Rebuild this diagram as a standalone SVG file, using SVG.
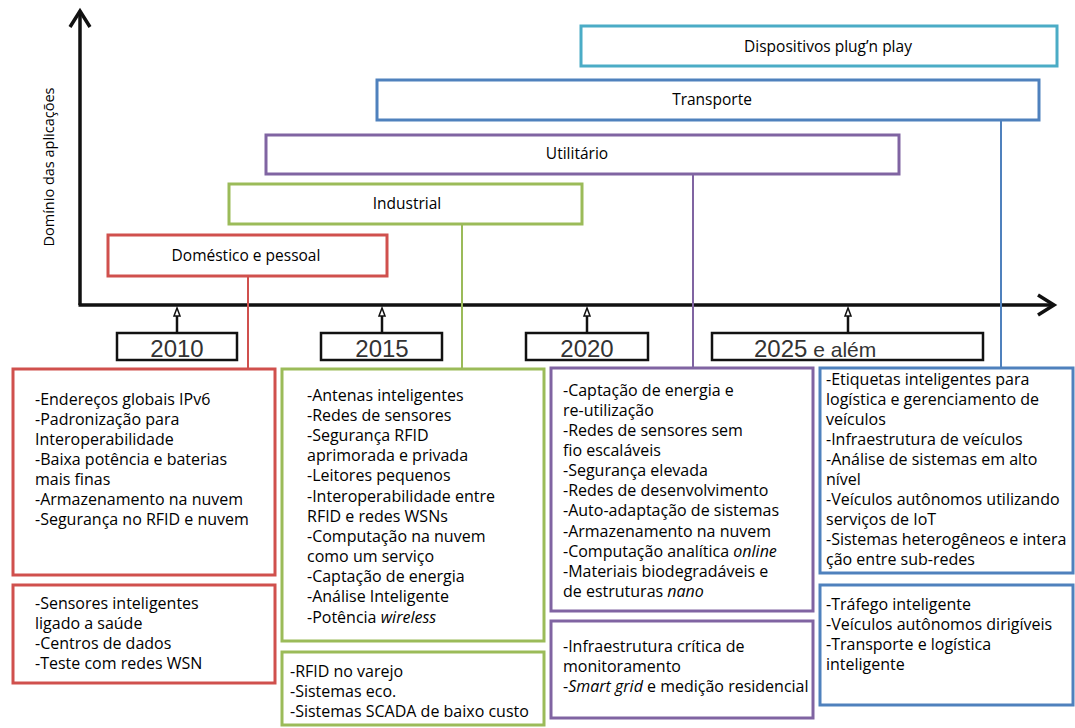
<svg xmlns="http://www.w3.org/2000/svg" width="1075" height="728" viewBox="0 0 1075 728">
<style>
.bx{fill:#fff;stroke-width:3}
.red{stroke:#D0504D}.grn{stroke:#9BBB59}.pur{stroke:#8064A2}.blu{stroke:#4F81BD}.cya{stroke:#4BACC6}
.lbl{font-family:"Open Sans","Liberation Sans",sans-serif;font-size:15.5px;fill:#000;text-anchor:middle}
.txt{font-family:"Open Sans","Liberation Sans",sans-serif;font-size:16px;fill:#000}
.yr{font-family:"Liberation Sans",Arial,sans-serif;font-size:24px;fill:#333}
.ybox{fill:#fff;stroke:#111;stroke-width:2.5}
.tick{stroke:#111;stroke-width:2.5;fill:none}
.con{fill:none;stroke-width:2}
</style>
<rect width="1075" height="728" fill="#fff"/>
<g id="axes">
<line x1="80" y1="12" x2="80" y2="305" stroke="#111" stroke-width="3.5"/>
<line x1="78.5" y1="305" x2="1052" y2="305" stroke="#111" stroke-width="3.5"/>
<polyline points="70,27 80,11 90,27" fill="none" stroke="#111" stroke-width="3.5"/>
<polyline points="1038,295 1054,305 1038,315" fill="none" stroke="#111" stroke-width="3.5"/>
<text x="54" y="167" transform="rotate(-90 54 167)" class="lbl" style="font-size:14.5px">Domínio das aplicações</text>
</g>
<g id="connectors">
<line class="con red" x1="248" y1="276" x2="248" y2="369"/>
<line class="con grn" x1="462" y1="224" x2="462" y2="369"/>
<line class="con pur" x1="693" y1="174" x2="693" y2="368"/>
<line class="con blu" x1="1001" y1="120" x2="1001" y2="368"/>
<g class="tick">
<line x1="177" y1="316" x2="177" y2="333"/><polygon points="177,308 174,316 180,316" fill="#fff" stroke-width="1.5"/>
<line x1="382" y1="316" x2="382" y2="333"/><polygon points="382,308 379,316 385,316" fill="#fff" stroke-width="1.5"/>
<line x1="587" y1="316" x2="587" y2="333"/><polygon points="587,308 584,316 590,316" fill="#fff" stroke-width="1.5"/>
<line x1="848" y1="316" x2="848" y2="333"/><polygon points="848,308 845,316 851,316" fill="#fff" stroke-width="1.5"/>
</g>
</g>
<g id="dom-plugnplay"><rect class="bx cya" x="581" y="26" width="476" height="40"/><text class="lbl" x="828" y="52">Dispositivos plug’n play</text></g>
<g id="dom-transporte"><rect class="bx blu" x="377" y="80" width="662" height="40"/><text class="lbl" x="712" y="105">Transporte</text></g>
<g id="dom-utilitario"><rect class="bx pur" x="266" y="135" width="633" height="39"/><text class="lbl" x="577" y="159">Utilitário</text></g>
<g id="dom-industrial"><rect class="bx grn" x="229" y="184" width="353" height="40"/><text class="lbl" x="407" y="209">Industrial</text></g>
<g id="dom-domestico"><rect class="bx red" x="108" y="235" width="279" height="41"/><text class="lbl" x="246" y="261">Doméstico e pessoal</text></g>
<g id="y2010"><rect class="ybox" x="117" y="333" width="120" height="27"/><text class="yr" x="177" y="357" text-anchor="middle">2010</text></g>
<g id="y2015"><rect class="ybox" x="321" y="333" width="121" height="27"/><text class="yr" x="382" y="357" text-anchor="middle">2015</text></g>
<g id="y2020"><rect class="ybox" x="526" y="333" width="122" height="27"/><text class="yr" x="587" y="357" text-anchor="middle">2020</text></g>
<g id="y2025"><rect class="ybox" x="712" y="333" width="271" height="27"/><text class="yr" x="754" y="357">2025<tspan style="font-size:21px"> e além</tspan></text></g>
<g id="c2010a"><rect class="bx red" x="13" y="369" width="262" height="206"/>
<text class="txt"><tspan x="35" y="405">-Endereços globais IPv6</tspan><tspan x="35" y="425">-Padronização para</tspan><tspan x="35" y="445">Interoperabilidade</tspan><tspan x="35" y="465">-Baixa potência e baterias</tspan><tspan x="35" y="485">mais finas</tspan><tspan x="35" y="505">-Armazenamento na nuvem</tspan><tspan x="35" y="525">-Segurança no RFID e nuvem</tspan></text></g>
<g id="c2010b"><rect class="bx red" x="13" y="585" width="262" height="98"/>
<text class="txt"><tspan x="35" y="609">-Sensores inteligentes</tspan><tspan x="35" y="629">ligado a saúde</tspan><tspan x="35" y="649">-Centros de dados</tspan><tspan x="35" y="669">-Teste com redes WSN</tspan></text></g>
<g id="c2015a"><rect class="bx grn" x="282" y="369" width="262" height="272"/>
<text class="txt"><tspan x="307" y="401">-Antenas inteligentes</tspan><tspan x="307" y="421">-Redes de sensores</tspan><tspan x="307" y="441">-Segurança RFID</tspan><tspan x="307" y="461">aprimorada e privada</tspan><tspan x="307" y="481">-Leitores pequenos</tspan><tspan x="307" y="502">-Interoperabilidade entre</tspan><tspan x="307" y="522">RFID e redes WSNs</tspan><tspan x="307" y="542">-Computação na nuvem</tspan><tspan x="307" y="562">como um serviço</tspan><tspan x="307" y="582">-Captação de energia</tspan><tspan x="307" y="602">-Análise Inteligente</tspan><tspan x="307" y="623">-Potência <tspan font-style="italic">wireless</tspan></tspan></text></g>
<g id="c2015b"><rect class="bx grn" x="282" y="652" width="262" height="73"/>
<text class="txt"><tspan x="290" y="677">-RFID no varejo</tspan><tspan x="290" y="697">-Sistemas eco.</tspan><tspan x="290" y="717">-Sistemas SCADA de baixo  custo</tspan></text></g>
<g id="c2020a"><rect class="bx pur" x="551" y="368" width="262" height="243"/>
<text class="txt"><tspan x="563" y="396">-Captação de energia e</tspan><tspan x="563" y="416">re-utilização</tspan><tspan x="563" y="436">-Redes de sensores sem</tspan><tspan x="563" y="456">fio escaláveis</tspan><tspan x="563" y="476">-Segurança elevada</tspan><tspan x="563" y="496">-Redes de desenvolvimento</tspan><tspan x="563" y="516">-Auto-adaptação de sistemas</tspan><tspan x="563" y="537">-Armazenamento na nuvem</tspan><tspan x="563" y="557">-Computação analítica <tspan font-style="italic">online</tspan></tspan><tspan x="563" y="577">-Materiais biodegradáveis e</tspan><tspan x="563" y="597">de estruturas <tspan font-style="italic">nano</tspan></tspan></text></g>
<g id="c2020b"><rect class="bx pur" x="551" y="621" width="262" height="97"/>
<text class="txt"><tspan x="563" y="652">-Infraestrutura crítica de</tspan><tspan x="563" y="672">monitoramento</tspan><tspan x="563" y="692">-<tspan font-style="italic">Smart grid</tspan> e medição residencial</tspan></text></g>
<g id="c2025a"><rect class="bx blu" x="820" y="368" width="253" height="205"/>
<text class="txt"><tspan x="826" y="385">-Etiquetas inteligentes para</tspan><tspan x="826" y="405">logística e gerenciamento de</tspan><tspan x="826" y="425">veículos</tspan><tspan x="826" y="445">-Infraestrutura de veículos</tspan><tspan x="826" y="465">-Análise de sistemas em alto</tspan><tspan x="826" y="485">nível</tspan><tspan x="826" y="505">-Veículos autônomos utilizando</tspan><tspan x="826" y="525">serviços de IoT</tspan><tspan x="826" y="545">-Sistemas heterogêneos e intera</tspan><tspan x="826" y="565">ção entre sub-redes</tspan></text></g>
<g id="c2025b"><rect class="bx blu" x="820" y="585" width="253" height="120"/>
<text class="txt"><tspan x="826" y="610">-Tráfego inteligente</tspan><tspan x="826" y="630">-Veículos autônomos dirigíveis</tspan><tspan x="826" y="650">-Transporte e logística</tspan><tspan x="826" y="670">inteligente</tspan></text></g>
</svg>
